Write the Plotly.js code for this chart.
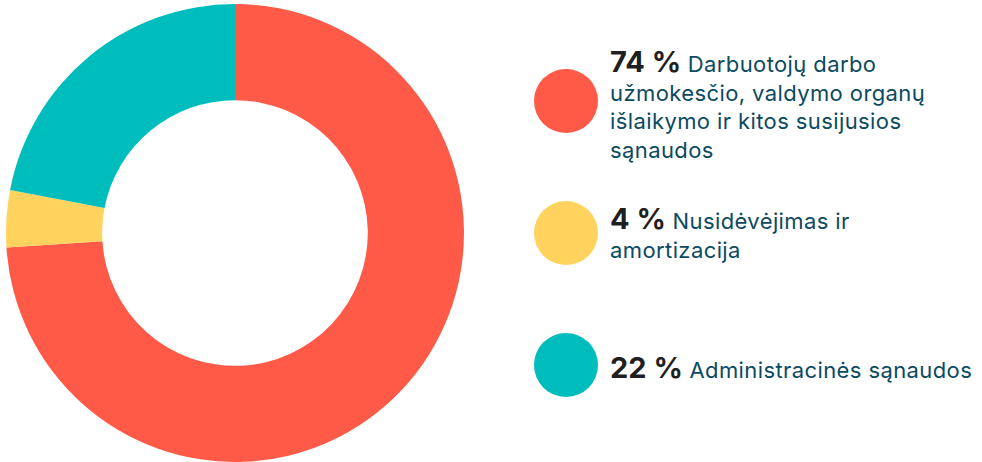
<!DOCTYPE html>
<html>
<head>
<meta charset="utf-8">
<script src="https://cdn.plot.ly/plotly-3.0.1.min.js"></script>
<style>html,body{margin:0;padding:0;background:#fff;}#chart{width:982px;height:462px;}</style>
</head>
<body>
<div id="chart"></div>
<script>
const categories = [
  "Darbuotojų darbo<br>užmokesčio, valdymo organų<br>išlaikymo ir kitos susijusios<br>sąnaudos",
  "Nusidėvėjimas ir<br>amortizacija",
  "Administracinės sąnaudos"
];
const values = [74, 4, 22];
const colors = ["#FF5A47", "#FFD35D", "#00BDBD"];

const trace = {
  type: "pie",
  values: values,
  labels: categories,
  marker: {colors: colors, line: {width: 0}},
  hole: 0.58,
  sort: false,
  direction: "clockwise",
  rotation: 0,
  textinfo: "none",
  hoverinfo: "none",
  showlegend: false,
  domain: {x: [0.0061, 0.4725], y: [0, 0.9913]}
};

const W = 982, H = 462;
const circleCentersY = [101, 233, 365];
const textCentersY = [103, 232, 367];
const R = 32;
const shapes = [], annotations = [];
values.forEach((v, i) => {
  shapes.push({
    type: "circle", xref: "paper", yref: "paper",
    x0: (566 - R) / W, x1: (566 + R) / W,
    y0: 1 - (circleCentersY[i] + R) / H, y1: 1 - (circleCentersY[i] - R) / H,
    fillcolor: colors[i], line: {width: 0}
  });
  annotations.push({
    xref: "paper", yref: "paper",
    x: 608 / W, y: 1 - textCentersY[i] / H,
    xanchor: "left", yanchor: "middle", align: "left",
    showarrow: false,
    text: '<span style="font-size:29px;font-weight:bold;color:#1f1f1f;letter-spacing:0px">' + v + ' %</span> ' + categories[i],
    font: {family: "Inter, Roboto, sans-serif", size: 22, color: "#0C4A5F"}
  });
});

const layout = {
  width: W, height: H,
  margin: {l: 0, r: 0, t: 0, b: 0},
  paper_bgcolor: "#fff",
  showlegend: false,
  shapes: shapes,
  annotations: annotations
};
Plotly.newPlot("chart", [trace], layout, {displayModeBar: false, staticPlot: true}).then(() => {
  document.querySelectorAll(".annotation-text").forEach(t => { t.style.letterSpacing = "0.4px"; });
});
</script>
</body>
</html>
